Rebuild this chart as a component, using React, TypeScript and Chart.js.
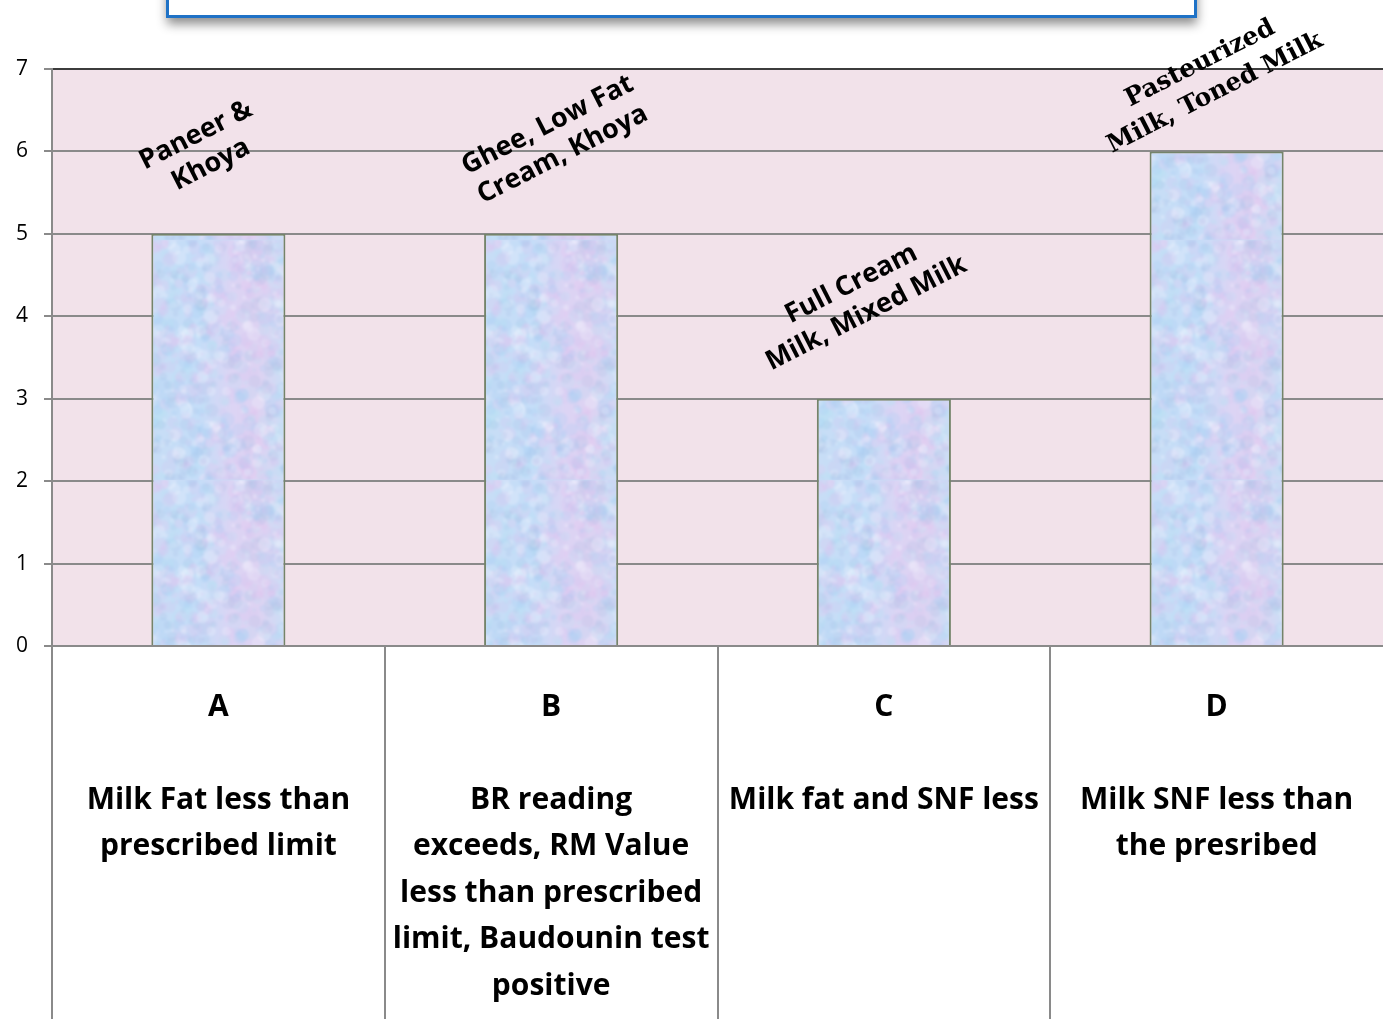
import React, { useEffect, useRef } from 'react';
import { Chart, registerables } from 'chart.js';

Chart.register(...registerables);

// ---- data ----
const categories: string[] = ['A', 'B', 'C', 'D'];
const descriptions: string[][] = [
  ['Milk Fat less than', 'prescribed limit'],
  ['BR reading', 'exceeds, RM Value', 'less than prescribed', 'limit, Baudounin test', 'positive'],
  ['Milk fat and SNF less'],
  ['Milk SNF less than', 'the presribed'],
];
const values: number[] = [5, 5, 3, 6];
const productLabels: string[][] = [
  ['Paneer &', 'Khoya'],
  ['Ghee, Low Fat', 'Cream, Khoya'],
  ['Full Cream', 'Milk, Mixed Milk'],
  ['Pasteurized', 'Milk, Toned Milk'],
];
const yTickValues: number[] = [0, 1, 2, 3, 4, 5, 6, 7];

// ---- styling ----
const labelOffsets: [number, number][] = [[-15, -84], [4, -94], [-25, -100], [-9, -73]];
const labelFonts: string[] = [
  'bold 27px "Open Sans"',
  'bold 27px "Open Sans"',
  'bold 27px "Open Sans"',
  'bold 25px "DejaVu Serif"',
];

function makePattern(): CanvasPattern | string {
  const w = 333;
  const h = 240;
  const src = document.createElement('canvas');
  src.width = w;
  src.height = h;
  const g = src.getContext('2d');
  if (!g) return '#cddcf5';
  const grad = g.createLinearGradient(152, 0, 286, 0);
  grad.addColorStop(0, '#c8ddf6');
  grad.addColorStop(0.35, '#c4ddf8');
  grad.addColorStop(0.6, '#dcd4f4');
  grad.addColorStop(0.8, '#ddd2f2');
  grad.addColorStop(1, '#c9dff6');
  g.fillStyle = grad;
  g.fillRect(0, 0, w, h);
  let s = 987654321;
  const rnd = () => {
    s = (Math.imul(s, 1103515245) + 12345) & 0x7fffffff;
    return s / 0x7fffffff;
  };
  const cols = [
    'rgba(160,205,245,0.20)',
    'rgba(215,195,242,0.20)',
    'rgba(236,190,236,0.18)',
    'rgba(150,180,220,0.14)',
    'rgba(248,248,255,0.25)',
    'rgba(175,225,245,0.18)',
  ];
  for (let i = 0; i < 2200; i++) {
    const x = rnd() * w;
    const y = rnd() * h;
    const r = 1.5 + rnd() * 6;
    g.fillStyle = cols[Math.floor(rnd() * cols.length)];
    g.beginPath();
    g.arc(x, y, r, 0, Math.PI * 2);
    g.fill();
  }
  const c = document.createElement('canvas');
  c.width = w;
  c.height = h;
  const g2 = c.getContext('2d');
  if (!g2) return g.createPattern(src, 'repeat') || '#cddcf5';
  g2.fillStyle = '#cadcf6';
  g2.fillRect(0, 0, w, h);
  (g2 as any).filter = 'blur(1px)';
  g2.drawImage(src, 0, 0);
  (g2 as any).filter = 'none';
  return g2.createPattern(c, 'repeat') || '#cddcf5';
}

const decorPlugin = {
  id: 'decor',
  beforeDraw(chart: any) {
    const { ctx, chartArea } = chart;
    ctx.save();
    ctx.fillStyle = '#f2e2ea';
    ctx.fillRect(chartArea.left, chartArea.top, chartArea.right - chartArea.left, chartArea.bottom - chartArea.top);
    // title box (cut off at top of the picture)
    ctx.shadowColor = 'rgba(0,0,0,0.45)';
    ctx.shadowBlur = 10;
    ctx.shadowOffsetY = 7;
    ctx.shadowOffsetX = 1;
    ctx.fillStyle = '#ffffff';
    ctx.fillRect(166, -20, 1030, 37);
    ctx.shadowColor = 'transparent';
    ctx.strokeStyle = '#1f72c6';
    ctx.lineWidth = 3;
    ctx.strokeRect(167.5, -20, 1028, 36.5);
    ctx.restore();
  },
  afterDraw(chart: any) {
    const { ctx, chartArea } = chart;
    const xs = chart.scales.x;
    const half = (xs.getPixelForValue(1) - xs.getPixelForValue(0)) / 2;
    ctx.save();
    ctx.strokeStyle = '#8a8a8a';
    ctx.lineWidth = 2;
    for (let i = 0; i < categories.length; i++) {
      const x = Math.round(xs.getPixelForValue(i) - half);
      ctx.beginPath();
      ctx.moveTo(x, chartArea.bottom);
      ctx.lineTo(x, chart.height);
      ctx.stroke();
    }
    // product annotations above the bars
    const meta = chart.getDatasetMeta(0);
    ctx.fillStyle = '#000000';
    ctx.textAlign = 'center';
    ctx.textBaseline = 'middle';
    meta.data.forEach((bar: any, i: number) => {
      const lines = productLabels[i];
      const [dx, dy] = labelOffsets[i];
      ctx.save();
      ctx.translate(bar.x + dx, bar.y + dy);
      ctx.rotate((-27 * Math.PI) / 180);
      ctx.font = labelFonts[i];
      const gap = 33;
      lines.forEach((l, k) => {
        ctx.fillText(l, 0, (k - (lines.length - 1) / 2) * gap);
      });
      ctx.restore();
    });
    ctx.restore();
  },
};

export default function App() {
  const ref = useRef<HTMLCanvasElement | null>(null);
  useEffect(() => {
    document.body.style.margin = '0';
    if (!ref.current) return;
    const pattern = makePattern();
    const chart = new Chart(ref.current, {
      type: 'bar',
      data: {
        labels: categories,
        datasets: [
          {
            data: values,
            backgroundColor: pattern as any,
            borderColor: '#74846a',
            borderWidth: 2,
            categoryPercentage: 1,
            barPercentage: 0.403,
          },
        ],
      },
      options: {
        animation: false,
        responsive: true,
        maintainAspectRatio: false,
        layout: { padding: { top: 69, right: 0, left: 0, bottom: 0 } },
        plugins: {
          legend: { display: false },
          tooltip: { enabled: false },
          title: { display: false },
        },
        scales: {
          x: {
            offset: true,
            grid: {
              display: true,
              drawOnChartArea: false,
              drawTicks: true,
              tickLength: 38,
              tickColor: 'rgba(0,0,0,0)',
            },
            border: { display: true, color: '#8a8a8a', width: 2 },
            ticks: {
              autoSkip: false,
              maxRotation: 0,
              minRotation: 0,
              padding: 0,
              color: '#000000',
              font: { family: 'Open Sans', weight: 'bold', size: 30, lineHeight: 1.55 },
              callback: (_v: any, i: number) => [categories[i], '', ...descriptions[i]],
            },
            afterFit: (s: any) => {
              s.height = 373;
            },
          },
          y: {
            min: 0,
            max: 7,
            afterBuildTicks: (s: any) => {
              s.ticks = yTickValues.map((v) => ({ value: v }));
            },
            grid: {
              color: (c: any) => (c.tick && c.tick.value === 7 ? '#3c3c3c' : '#8a8a8a'),
              lineWidth: 2,
              tickLength: 8,
              tickColor: '#8a8a8a',
            },
            border: { display: true, color: '#8a8a8a', width: 2 },
            ticks: {
              color: '#000000',
              padding: 16,
              font: { family: 'Open Sans', size: 21 },
            },
            afterFit: (s: any) => {
              s.width = 52;
            },
          },
        },
      },
      plugins: [decorPlugin],
    });
    return () => chart.destroy();
  }, []);
  return (
    <div style={{ position: 'absolute', left: 0, top: 0, width: 1383, height: 1019 }}>
      <canvas ref={ref} />
    </div>
  );
}
